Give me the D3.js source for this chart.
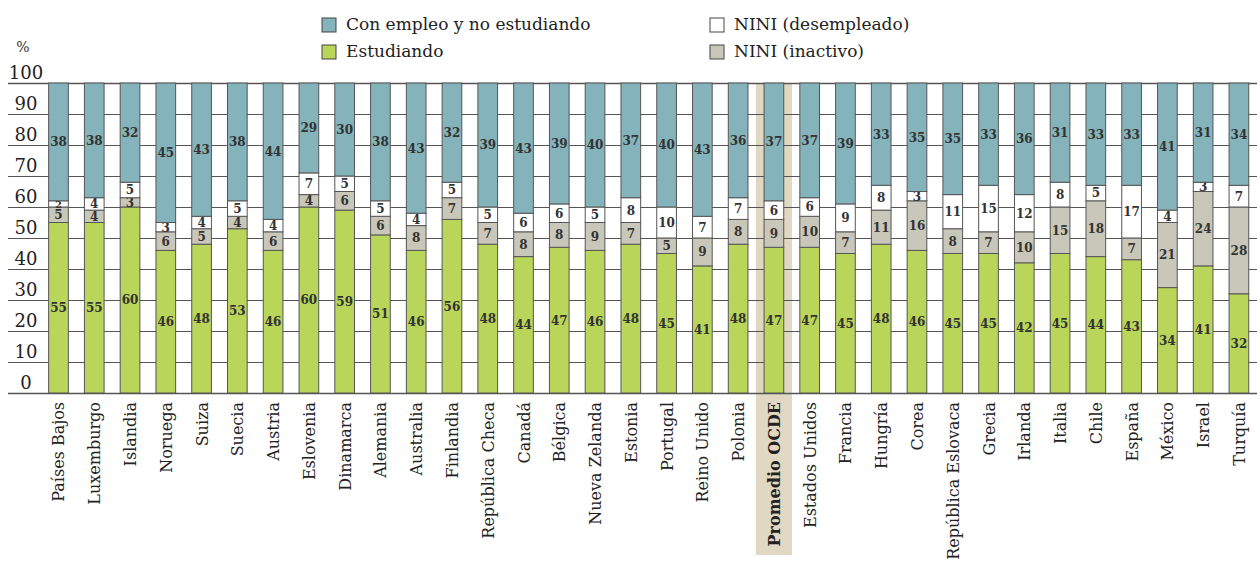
<!DOCTYPE html>
<meta charset="utf-8">
<style>
    body { margin: 0; background: #fff; }
    svg { font-family: "DejaVu Serif", serif; display: block; }
    .grid line { stroke: #555; stroke-width: 1; }
    .seg rect { stroke: #555; stroke-width: 1; }
    .val { font-size: 12px; font-weight: bold; fill: #333; text-anchor: middle; }
    .ylab { font-size: 18px; fill: #222; text-anchor: middle; }
    .xlab { font-size: 16px; fill: #222; text-anchor: end; }
    .leg text { font-size: 17px; fill: #222; }
</style>
<svg width="1257" height="563"></svg>

<script src="https://d3js.org/d3.v7.min.js"></script>
<script>
    var countries = ["Países Bajos", "Luxemburgo", "Islandia", "Noruega", "Suiza", "Suecia", "Austria", "Eslovenia",
        "Dinamarca", "Alemania", "Australia", "Finlandia", "República Checa", "Canadá", "Bélgica", "Nueva Zelanda",
        "Estonia", "Portugal", "Reino Unido", "Polonia", "Promedio OCDE", "Estados Unidos", "Francia", "Hungría",
        "Corea", "República Eslovaca", "Grecia", "Irlanda", "Italia", "Chile", "España", "México", "Israel", "Turquía"];
    var estudiando  = [55, 55, 60, 46, 48, 53, 46, 60, 59, 51, 46, 56, 48, 44, 47, 46, 48, 45, 41, 48, 47, 47, 45, 48, 46, 45, 45, 42, 45, 44, 43, 34, 41, 32];
    var inactivo    = [5, 4, 3, 6, 5, 4, 6, 4, 6, 6, 8, 7, 7, 8, 8, 9, 7, 5, 9, 8, 9, 10, 7, 11, 16, 8, 7, 10, 15, 18, 7, 21, 24, 28];
    var desempleado = [2, 4, 5, 3, 4, 5, 4, 7, 5, 5, 4, 5, 5, 6, 6, 5, 8, 10, 7, 7, 6, 6, 9, 8, 3, 11, 15, 12, 8, 5, 17, 4, 3, 7];
    var empleo      = [38, 38, 32, 45, 43, 38, 44, 29, 30, 38, 43, 32, 39, 43, 39, 40, 37, 40, 43, 36, 37, 37, 39, 33, 35, 35, 33, 36, 31, 33, 33, 41, 31, 34];
    var yTicks = [0, 10, 20, 30, 40, 50, 60, 70, 80, 90, 100];
    var highlight = "Promedio OCDE";

    var keys = ["estudiando", "inactivo", "desempleado", "empleo"];
    var color = d3.scaleOrdinal(keys, ["#b9d55a", "#c8c7b9", "#ffffff", "#84b3bb"]);

    var rows = countries.map(function(c, i) {
        return { pais: c, estudiando: estudiando[i], inactivo: inactivo[i], desempleado: desempleado[i], empleo: empleo[i] };
    });

    var svg = d3.select("svg");
    var x = d3.scaleBand().domain(countries).range([40.6, 1256.8]).paddingInner(0.45).paddingOuter(0.225);
    var y = d3.scaleLinear().domain([0, 100]).range([393, 83]).clamp(true);

    // highlight band behind the average bar
    svg.append("rect")
        .attr("x", x(highlight) - x.step() * 0.23)
        .attr("y", y(100))
        .attr("width", x.bandwidth() + x.step() * 0.46)
        .attr("height", 555 - y(100))
        .attr("fill", "#e0d8c3");

    // gridlines
    svg.append("g").attr("class", "grid")
        .selectAll("line").data(yTicks).enter().append("line")
        .attr("x1", 8).attr("x2", 1257)
        .attr("y1", function(d) { return Math.round(y(d)) + 0.5; })
        .attr("y2", function(d) { return Math.round(y(d)) + 0.5; })
        .style("stroke-width", function(d) { return d === 0 || d === 100 ? 1.5 : 1; });

    svg.append("g").selectAll("text").data(yTicks).enter().append("text")
        .attr("class", "ylab")
        .attr("x", 26)
        .attr("y", function(d) { return y(d) - 4; })
        .text(function(d) { return d; });
    svg.append("text").attr("x", 23).attr("y", 52).attr("text-anchor", "middle")
        .style("font-size", "14px").style("fill", "#333").text("%");

    var series = d3.stack().keys(keys)(rows);
    // the top (employed) segment fills up to 100% as in the original (rounding)
    series[series.length - 1].forEach(function(d) { d[1] = 100; });

    var seg = svg.append("g").selectAll("g").data(series).enter().append("g")
        .attr("class", "seg")
        .attr("fill", function(s) { return color(s.key); });

    seg.selectAll("rect").data(function(s) { return s; }).enter().append("rect")
        .attr("x", function(d) { return x(d.data.pais); })
        .attr("width", x.bandwidth())
        .attr("y", function(d) { return y(d[1]); })
        .attr("height", function(d) { return y(d[0]) - y(d[1]); });

    seg.selectAll("text").data(function(s) { return s.map(function(d) { d.key = s.key; return d; }); })
        .enter().append("text")
        .attr("class", "val")
        .attr("x", function(d) { return x(d.data.pais) + x.bandwidth() / 2; })
        .attr("y", function(d) { return (y(d[0]) + y(d[1])) / 2; })
        .attr("dy", "0.37em")
        .style("font-size", function(d) { return d.data[d.key] <= 2 ? "10px" : null; })
        .text(function(d) { return d.data[d.key]; });

    // country labels
    svg.append("g").selectAll("text").data(countries).enter().append("text")
        .attr("class", "xlab")
        .attr("transform", function(d) { return "translate(" + (x(d) + x.bandwidth() / 2 + 6) + ",402) rotate(-90)"; })
        .style("font-weight", function(d) { return d === highlight ? "bold" : null; })
        .text(function(d) { return d; });

    // legend
    var legend = [
        { key: "empleo", label: "Con empleo y no estudiando", x: 322, y: 18 },
        { key: "estudiando", label: "Estudiando", x: 322, y: 45 },
        { key: "desempleado", label: "NINI (desempleado)", x: 710, y: 18 },
        { key: "inactivo", label: "NINI (inactivo)", x: 710, y: 45 }
    ];
    var lg = svg.append("g").attr("class", "leg").selectAll("g").data(legend).enter().append("g")
        .attr("transform", function(d) { return "translate(" + d.x + "," + d.y + ")"; });
    lg.append("rect").attr("width", 14).attr("height", 14)
        .attr("fill", function(d) { return color(d.key); })
        .attr("stroke", "#444");
    lg.append("text").attr("x", 24).attr("y", 12).text(function(d) { return d.label; });
</script>
